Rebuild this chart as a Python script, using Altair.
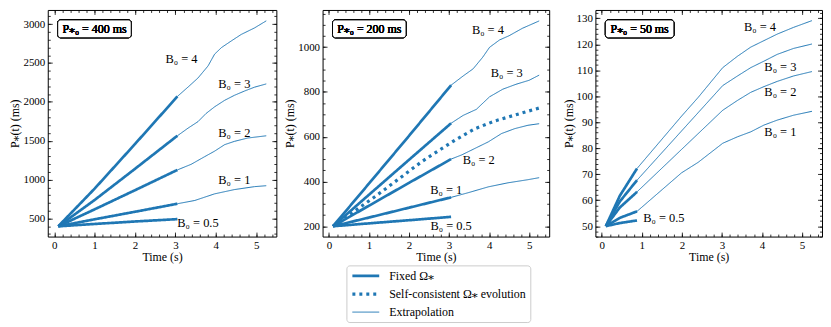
import altair as alt
import pandas as pd

FONT = "Liberation Serif, DejaVu Serif, serif"
BLUE = "#1f77b4"
KINDS = ["Fixed Ω⁎", "Self-consistent Ω⁎ evolution", "Extrapolation"]

# ---------------- Panel A : P*0 = 400 ms ----------------
A_FIX_T = [0.1, 1.0, 2.0, 3.05]
A_FIX = {
    "4": [400, 884, 1458, 2070],
    "3": [400, 738, 1139, 1565],
    "2": [400, 618, 864, 1125],
    "1": [400, 490, 587, 690],
    "0.5": [400, 430, 462, 492],
}
A_EXT = {
    "4": ([3.05, 3.31, 3.56, 3.81, 3.97, 4.14, 4.38, 4.63, 4.96, 5.25],
          [2070, 2189, 2307, 2463, 2613, 2698, 2782, 2867, 2951, 3042]),
    "3": ([3.05, 3.31, 3.56, 3.76, 3.97, 4.22, 4.46, 4.71, 4.96, 5.25],
          [1564, 1661, 1746, 1851, 1936, 2020, 2084, 2139, 2189, 2231]),
    "2": ([3.05, 3.39, 3.72, 3.97, 4.22, 4.46, 4.79, 5.25],
          [1125, 1197, 1294, 1366, 1450, 1492, 1535, 1564]),
    "1": ([3.05, 3.48, 3.97, 4.46, 4.96, 5.25],
          [690, 732, 817, 872, 910, 922]),
}
A_LAB_T = [3.15, 4.46, 4.46, 4.46, 3.56]
A_LAB_P = [2548, 2231, 1598, 994, 437]

# ---------------- Panel B : P*0 = 200 ms ----------------
B_FIX_T = [0.1, 1.0, 2.0, 3.05]
B_FIX = {
    "4": [200, 391, 604, 830],
    "3": [200, 341, 497, 660],
    "2": [200, 292, 394, 500],
    "1": [200, 239, 283, 329],
    "0.5": [200, 213, 227, 242],
}
B_EXT = {
    "4": ([3.05, 3.35, 3.6, 3.84, 4.01, 4.26, 4.5, 4.83, 5.25],
          [830, 871, 903, 955, 999, 1032, 1051, 1084, 1117]),
    "3": ([3.05, 3.35, 3.68, 4.01, 4.34, 4.67, 5.0, 5.25],
          [660, 695, 722, 778, 812, 834, 852, 875]),
    "2": ([3.05, 3.32, 3.65, 3.98, 4.31, 4.64, 4.97, 5.25],
          [500, 519, 548, 577, 614, 636, 651, 658]),
    "1": ([3.05, 3.48, 3.98, 4.47, 4.97, 5.25],
          [329, 350, 376, 394, 408, 417]),
}
B_SC_T = [0.1, 0.6, 1.17, 1.8, 2.32, 2.8, 3.15, 3.65, 4.14, 4.8, 5.25]
B_SC_P = [200, 263, 335, 419, 489, 545, 585, 636, 670, 705, 728]
B_LAB_T = [3.97, 4.44, 3.74, 2.93, 3.05]
B_LAB_P = [1076, 883, 494, 364, 203]

# ---------------- Panel C : P*0 = 50 ms ----------------
C_FIX_T = [0.1, 0.45, 0.88]
C_FIX = {
    "4": [50, 61.7, 72.2],
    "3": [50, 59.5, 67.7],
    "2": [50, 57.2, 63.2],
    "1": [50, 53.2, 55.7],
    "0.5": [50, 51.2, 52.2],
}
C_EXT = {
    "4": ([0.88, 1.99, 2.41, 3.02, 3.39, 3.72, 4.05, 4.38, 4.79, 5.25],
          [72.2, 92.3, 99.6, 111.0, 115.4, 118.9, 121.4, 123.9, 126.5, 129.1]),
    "3": ([0.88, 1.99, 3.02, 3.39, 3.72, 4.05, 4.38, 4.79, 5.25],
          [67.7, 86.6, 104.1, 107.8, 111.0, 113.5, 116.1, 118.4, 120.1]),
    "2": ([0.88, 1.99, 3.02, 3.39, 3.72, 4.05, 4.38, 4.79, 5.25],
          [63.2, 79.5, 94.6, 98.4, 101.5, 103.7, 105.7, 107.8, 109.5]),
    "1": ([0.88, 1.99, 2.41, 3.02, 3.39, 3.72, 4.05, 4.38, 4.79, 5.25],
          [55.7, 70.5, 74.6, 81.9, 84.4, 86.3, 88.9, 90.8, 92.7, 94.2]),
}
C_LAB_T = [3.95, 4.46, 4.46, 4.46, 1.55]
C_LAB_P = [126.5, 111.3, 101.5, 86.3, 53.0]

LABELS = ["B₀ = 4", "B₀ = 3", "B₀ = 2", "B₀ = 1", "B₀ = 0.5"]
BOXES = ["P⁎₀ = 400 ms", "P⁎₀ = 200 ms", "P⁎₀ = 50 ms"]

X_DOMAIN = [-0.16, 5.5]
X_MAJOR = [0, 1, 2, 3, 4, 5]


def frange(a, b, s):
    out, v = [], a
    while v <= b + 1e-9:
        out.append(round(v, 6))
        v += s
    return out


def build_lines(fix_t, fix, ext, sc_t=None, sc_p=None):
    rows = []
    for b, ps in fix.items():
        for t, p in zip(fix_t, ps):
            rows.append({"t": t, "P": p, "kind": KINDS[0], "seg": "fix" + b})
    for b, (ts, ps) in ext.items():
        for t, p in zip(ts, ps):
            rows.append({"t": t, "P": p, "kind": KINDS[2], "seg": "ext" + b})
    if sc_t:
        for t, p in zip(sc_t, sc_p):
            rows.append({"t": t, "P": p, "kind": KINDS[1], "seg": "sc"})
    return pd.DataFrame(rows)


def tick_axis(orient, values, size):
    return alt.Axis(orient=orient, values=values, labels=False, domain=False,
                    grid=False, title=None, tickSize={"expr": str(-size)},
                    tickColor="black", tickWidth=0.8)


AXIS_TXT = dict(labelFont=FONT, labelFontSize=11, labelColor="black",
                titleFont=FONT, titleFontSize=12, titleFontWeight="normal",
                titleColor="black")


def panel(lines, lab_t, lab_p, box_text, box_w, ydom, ymaj, ymin, width, legend):
    xs = alt.Scale(domain=X_DOMAIN, nice=False, zero=False)
    ys = alt.Scale(domain=ydom, nice=False, zero=False)
    xmin = frange(0, 5.4, 0.2)
    base = alt.Chart(lines)
    dash = alt.StrokeDash("kind:N", scale=alt.Scale(type="ordinal", domain=KINDS,
                                                    range=[[1, 0], [3, 4], [1, 0]]),
                          legend=legend)
    sw = alt.StrokeWidth("kind:N", scale=alt.Scale(type="ordinal", domain=KINDS,
                                                   range=[2.7, 3.2, 1.0]),
                         legend=legend)
    line = base.mark_line(color=BLUE, clip=True).encode(
        x=alt.X("t:Q", scale=xs, axis=alt.Axis(
            orient="bottom", values=X_MAJOR, ticks=False, domain=False, grid=False,
            labelPadding=3, title="Time (s)", titlePadding=1, format="d", **AXIS_TXT)),
        y=alt.Y("P:Q", scale=ys, axis=alt.Axis(
            orient="left", values=ymaj, ticks=False, domain=False, grid=False,
            labelPadding=3, title="P⁎(t) (ms)", titlePadding=1, format="d", **AXIS_TXT)),
        strokeDash=dash, strokeWidth=sw, detail="seg:N",
    )

    def ticks(xo, yo, xv, yv, size):
        return base.mark_point(opacity=0).encode(
            x=alt.X("t:Q", scale=xs, axis=tick_axis(xo, xv, size)),
            y=alt.Y("P:Q", scale=ys, axis=tick_axis(yo, yv, size)),
        )

    t1 = ticks("bottom", "left", X_MAJOR, ymaj, 4.5)
    t2 = ticks("bottom", "left", xmin, ymin, 2.5)
    t3 = ticks("top", "right", X_MAJOR, ymaj, 4.5)
    t4 = ticks("top", "right", xmin, ymin, 2.5)

    labdf = pd.DataFrame({"t": lab_t, "P": lab_p, "lab": LABELS})
    text = alt.Chart(labdf).mark_text(font=FONT, fontSize=12.5, color="black").encode(
        x=alt.X("t:Q", scale=xs, axis=None),
        y=alt.Y("P:Q", scale=ys, axis=None),
        text="lab:N",
    )
    box = alt.Chart(labdf).mark_rect(fill="white", stroke="black", strokeWidth=1,
                                     cornerRadius=3).encode(
        x=alt.value(10), x2=alt.value(10 + box_w), y=alt.value(10), y2=alt.value(28))
    boxt = alt.Chart(labdf).mark_text(font=FONT, fontSize=12, color="black").encode(
        x=alt.value(10 + box_w / 2), y=alt.value(19.5), text=alt.value(box_text))

    return alt.layer(line, t1, t2, t3, t4, text, box, boxt).resolve_axis(
        x="independent", y="independent").properties(width=width, height=228)


legend = alt.Legend(orient="none", legendX=24, legendY=257, direction="vertical",
                    title=None, symbolType="M-1,0H4.4", symbolSize=100,
                    symbolStrokeColor=BLUE, labelFont=FONT, labelFontSize=12,
                    labelColor="black", padding=4, strokeColor="#cccccc",
                    cornerRadius=3, fillColor="white", rowPadding=5, labelOffset=25)

pA = panel(build_lines(A_FIX_T, A_FIX, A_EXT), A_LAB_T, A_LAB_P, BOXES[0], 74,
           [268, 3182], frange(500, 3000, 500), frange(300, 3100, 100), 230, None)
pB = panel(build_lines(B_FIX_T, B_FIX, B_EXT, B_SC_T, B_SC_P), B_LAB_T, B_LAB_P,
           BOXES[1], 74, [154, 1166], frange(200, 1000, 200), frange(200, 1150, 50),
           228, legend)
pC = panel(build_lines(C_FIX_T, C_FIX, C_EXT), C_LAB_T, C_LAB_P, BOXES[2], 69,
           [46, 133.2], frange(50, 130, 10), frange(46, 132, 2), 228, None)

chart = alt.hconcat(pA, pB, pC, spacing=46.5, bounds="flush").resolve_scale(
    strokeDash="independent", strokeWidth="independent").resolve_legend(
    strokeDash="independent", strokeWidth="independent").properties(
    padding={"left": 0, "top": 0, "right": 0, "bottom": 0}).configure_view(
    stroke="black", strokeWidth=1).configure_axis(**AXIS_TXT)

chart.save("out.html", embed_options={"renderer": "svg", "actions": False})
